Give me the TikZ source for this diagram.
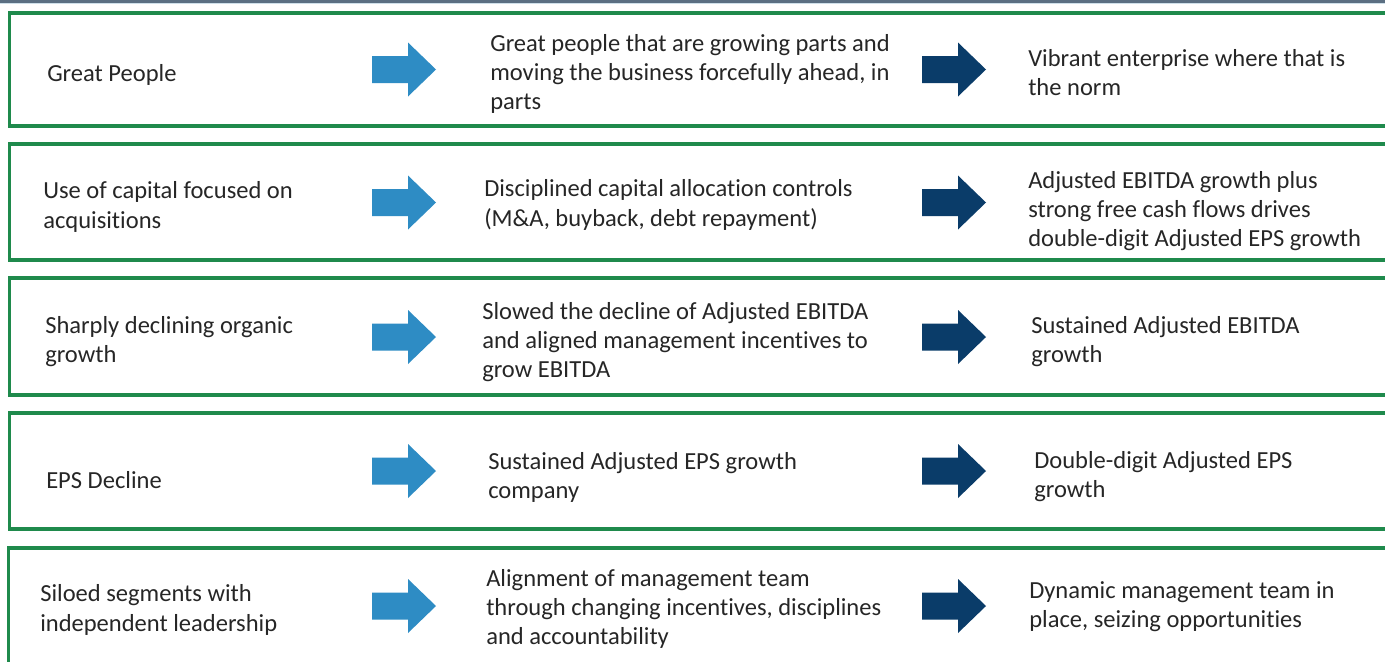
\documentclass[tikz,border=0pt]{standalone}
\usepackage{fontspec}
\setmainfont{Carlito}[Ligatures={NoCommon}]
\begin{document}
\definecolor{framegreen}{HTML}{1F8A4C}
\definecolor{lightarrow}{HTML}{2E8CC4}
\definecolor{darkarrow}{HTML}{0A3C69}
\definecolor{txt}{HTML}{262626}
\definecolor{topbar}{HTML}{5B6F82}
\definecolor{topbarlight}{HTML}{CFE0EA}
\begin{tikzpicture}[x=0.75pt,y=-0.75pt,
  rowbox/.style={draw=framegreen,line width=2.3pt},
  lbl/.style={anchor=west,align=left,inner sep=0pt,text=txt,
    font=\fontsize{18.4pt}{21.9pt}\selectfont},
  pics/blockarrow/.style={code={
    \fill[#1] (0,-13.5) -- (36,-13.5) -- (36,-27) -- (64,0) -- (36,27)
      -- (36,13.5) -- (0,13.5) -- cycle;}}]
\useasboundingbox (0,0) rectangle (1385,661);
\clip (0,0) rectangle (1385,661);
\fill[white] (0,0) rectangle (1385,661);
% header rule
\fill[topbar] (0,0) rectangle (1385,2.6);
\fill[topbarlight] (0,3) rectangle (1385,4.4);
% row frames
\draw[rowbox] (9.5,13) rectangle (1400,126);
\draw[rowbox] (9.5,144) rectangle (1400,260);
\draw[rowbox] (9.5,278) rectangle (1400,395);
\draw[rowbox] (9.5,413) rectangle (1400,529);
\draw[rowbox] (8.5,548) rectangle (1400,680);
% block arrows
\foreach \yy in {69.5,202.5,337,471,606}{
  \pic at (372,\yy) {blockarrow=lightarrow};
  \pic at (922,\yy) {blockarrow=darkarrow};
}
% row 1
\node[lbl] (a1) at (47,75) {Great People};
\node[lbl] (b1) at (490,74) {Great people that are growing parts and\\moving the business forcefully ahead, in\\parts};
\node[lbl] (c1) at (1028,72.5) {Vibrant enterprise where that is\\the norm};
% row 2
\node[lbl] (a2) at (43,207) {Use of capital focused on\\acquisitions};
\node[lbl] (b2) at (484,205) {Disciplined capital allocation controls\\(M\&A, buyback, debt repayment)};
\node[lbl] (c2) at (1028,211) {Adjusted EBITDA growth plus\\strong free cash flows drives\\double-digit Adjusted EPS growth};
% row 3
\node[lbl] (a3) at (45,341.5) {Sharply declining organic\\growth};
\node[lbl] (b3) at (482,342) {Slowed the decline of Adjusted EBITDA\\and aligned management incentives to\\grow EBITDA};
\node[lbl] (c3) at (1031,341.5) {Sustained Adjusted EBITDA\\growth};
% row 4
\node[lbl] (a4) at (46,480) {EPS Decline};
\node[lbl] (b4) at (488,477.5) {Sustained Adjusted EPS growth\\company};
\node[lbl] (c4) at (1034,476.5) {Double-digit Adjusted EPS\\growth};
% row 5
\node[lbl] (a5) at (40,610) {Siloed segments with\\independent leadership};
\node[lbl] (b5) at (486,609) {Alignment of management team\\through changing incentives, disciplines\\and accountability};
\node[lbl] (c5) at (1029,607) {Dynamic management team in\\place, seizing opportunities};
\end{tikzpicture}
\end{document}
